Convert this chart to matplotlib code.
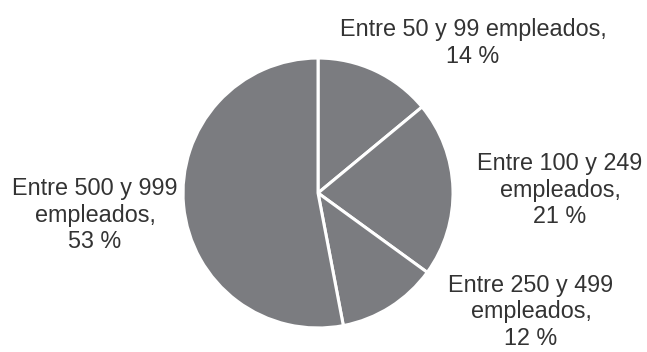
import matplotlib.pyplot as plt

plt.rcParams['font.family'] = ['Liberation Sans', 'DejaVu Sans']

categories = [
    "Entre 50 y 99 empleados,",
    "Entre 100 y 249\nempleados,",
    "Entre 250 y 499\nempleados,",
    "Entre 500 y 999\nempleados,",
]
shares = [14, 21, 12, 53]

fig = plt.figure(figsize=(6.47, 3.52), dpi=100)
ax = fig.add_axes([0, 0, 1, 1])

ax.pie(shares, startangle=90, counterclock=False, radius=1, center=(0, 0),
       colors=["#7b7c80"] * len(shares),
       wedgeprops=dict(edgecolor="white", linewidth=2.2))

# label placement (data units, pie radius = 1)
label_pos = [(1.148, 1.111), (1.793, 0.022), (1.578, -0.881), (-1.652, -0.163)]
for cat, val, (x, y) in zip(categories, shares, label_pos):
    ax.text(x, y, f"{cat}\n{val} %", ha="center", va="center",
            fontsize=16.8, color="#333333", linespacing=1.18)

ax.set_xlim(-2.356, 2.437)
ax.set_ylim(-1.178, 1.430)
ax.set_aspect("auto")
ax.axis("off")

fig.savefig("out.png", dpi=100)
plt.close(fig)
